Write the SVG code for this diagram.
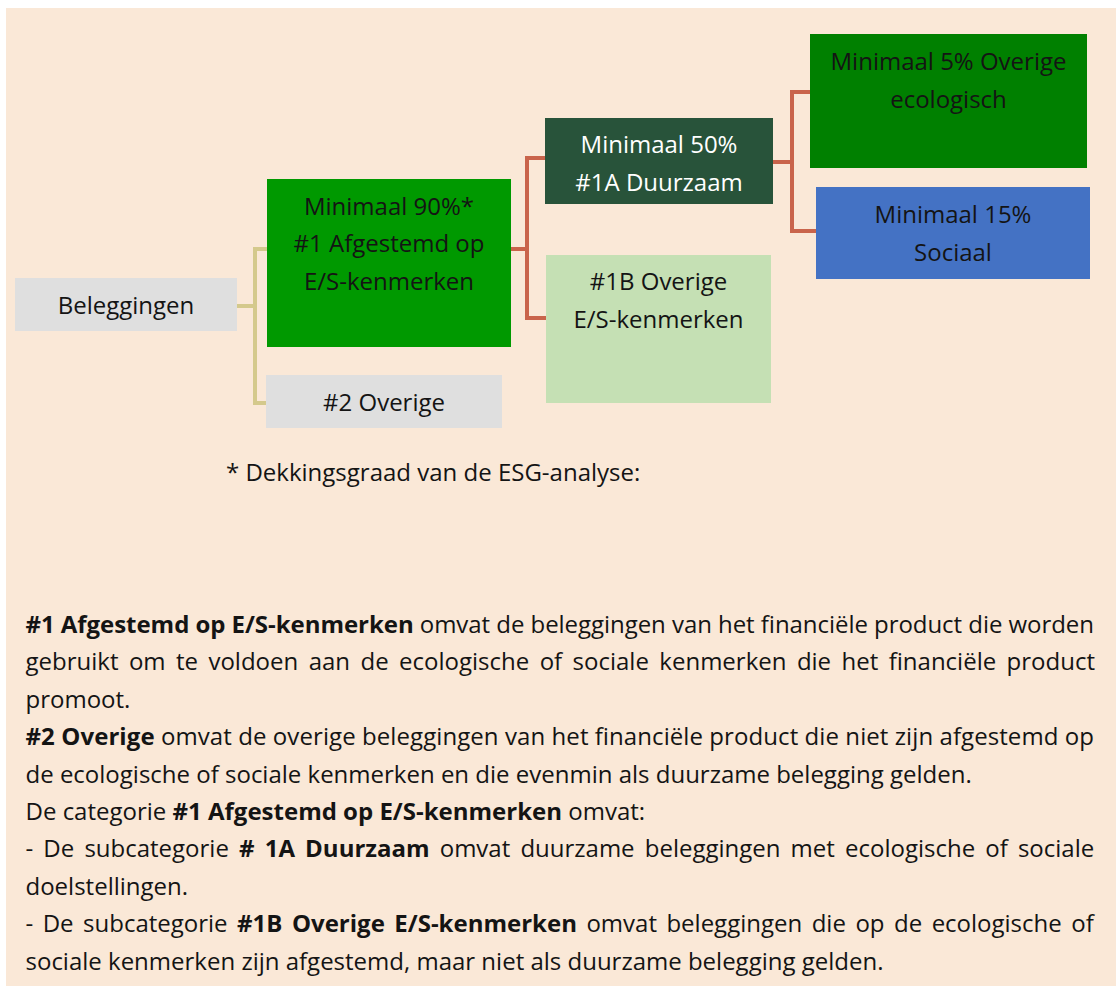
<svg xmlns="http://www.w3.org/2000/svg" width="1116" height="986" viewBox="0 0 1116 986">
<style>
text{font-family:"Open Sans","Noto Sans","Liberation Sans",sans-serif;font-size:24px;fill:#141414}
.c{text-anchor:middle}
.w{fill:#ffffff}
.b{font-weight:bold}
.tan{fill:none;stroke:#D4C98C;stroke-width:4}
.red{fill:none;stroke:#C9644B;stroke-width:4}
</style>
<rect x="6" y="8" width="1110" height="978" fill="#FAE8D7"/>
<g id="connectors">
<path class="tan" d="M237,306 H255 M267,249 H255 V403 H266"/>
<path class="red" d="M511,249 H527 M545,158 H527 V318 H546"/>
<path class="red" d="M773,162 H792 M810,92 H792 V231 H816"/>
</g>
<g id="beleggingen">
<rect x="15" y="278" width="222" height="53" fill="#DFDFDF"/>
<text class="c" x="126" y="314">Beleggingen</text>
</g>
<g id="n1">
<rect x="267" y="179" width="244" height="168" fill="#009900"/>
<text class="c" x="389" y="215">Minimaal 90%*</text>
<text class="c" x="389" y="252">#1 Afgestemd op</text>
<text class="c" x="389" y="289.5">E/S-kenmerken</text>
</g>
<g id="n2">
<rect x="266" y="375" width="236" height="53" fill="#DFDFDF"/>
<text class="c" x="384" y="411">#2 Overige</text>
</g>
<g id="n1a">
<rect x="545" y="118" width="228" height="86" fill="#28533A"/>
<text class="c w" x="659" y="153">Minimaal 50%</text>
<text class="c w" x="659" y="191">#1A Duurzaam</text>
</g>
<g id="n1b">
<rect x="546" y="255" width="225" height="148" fill="#C5E0B4"/>
<text class="c" x="658.5" y="289.5">#1B Overige</text>
<text class="c" x="658.5" y="327.5">E/S-kenmerken</text>
</g>
<g id="n5">
<rect x="810" y="34" width="277" height="134" fill="#008000"/>
<text class="c" x="948.5" y="70">Minimaal 5% Overige</text>
<text class="c" x="948.5" y="107.5">ecologisch</text>
</g>
<g id="n15">
<rect x="816" y="187" width="274" height="92" fill="#4472C4"/>
<text class="c" x="953" y="223">Minimaal 15%</text>
<text class="c" x="953" y="261">Sociaal</text>
</g>
<g id="footnote">
<text x="226" y="480.5">* Dekkingsgraad van de ESG-analyse:</text>
</g>
<g id="body">
<text x="25.5" y="632.5" textLength="1068.5" lengthAdjust="spacing"><tspan class="b">#1 Afgestemd op E/S-kenmerken</tspan> omvat de beleggingen van het financiële product die worden</text>
<text x="25.5" y="670" word-spacing="4.2">gebruikt om te voldoen aan de ecologische of sociale kenmerken die het financiële product</text>
<text x="25.5" y="707.5">promoot.</text>
<text x="25.5" y="745" textLength="1068.5" lengthAdjust="spacing"><tspan class="b">#2 Overige</tspan> omvat de overige beleggingen van het financiële product die niet zijn afgestemd op</text>
<text x="25.5" y="782.5">de ecologische of sociale kenmerken en die evenmin als duurzame belegging gelden.</text>
<text x="25.5" y="820">De categorie <tspan class="b">#1 Afgestemd op E/S-kenmerken</tspan> omvat:</text>
<text x="25.5" y="857" word-spacing="3.9">- De subcategorie <tspan class="b"># 1A Duurzaam</tspan> omvat duurzame beleggingen met ecologische of sociale</text>
<text x="25.5" y="894.5">doelstellingen.</text>
<text x="25.5" y="932" word-spacing="3.25">- De subcategorie <tspan class="b">#1B Overige E/S-kenmerken</tspan> omvat beleggingen die op de ecologische of</text>
<text x="25.5" y="969.5">sociale kenmerken zijn afgestemd, maar niet als duurzame belegging gelden.</text>
</g>
</svg>
